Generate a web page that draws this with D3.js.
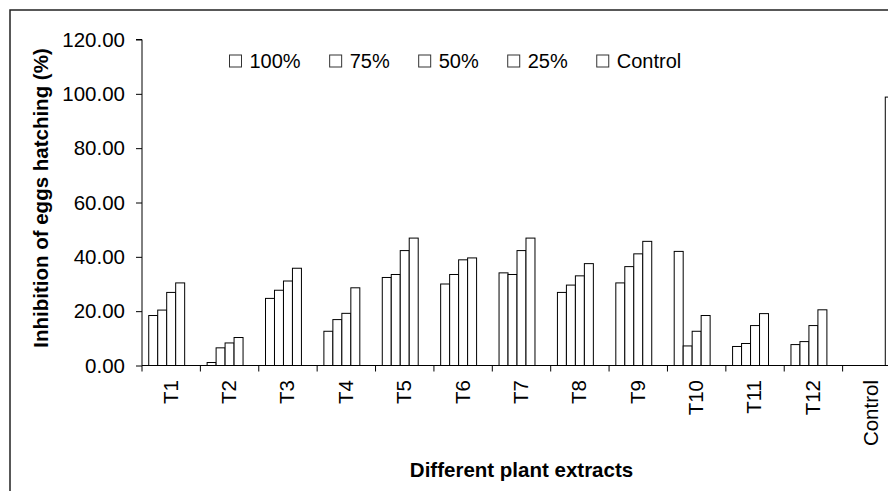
<!DOCTYPE html>
<html>
<head>
<meta charset="utf-8">
<script src="https://cdn.jsdelivr.net/npm/d3@7/dist/d3.min.js"></script>
<style>
  html, body { margin: 0; padding: 0; background: #fff; overflow: hidden; }
  svg { display: block; font-family: "Liberation Sans", Arial, sans-serif; }
</style>
</head>
<body>
<svg id="chart" width="888" height="491"></svg>
<script>
// ---- Data ----
const categories = ["T1","T2","T3","T4","T5","T6","T7","T8","T9","T10","T11","T12","Control"];
const seriesNames = ["100%","75%","50%","25%","Control"];
const s100     = [18.4, 1.1, 24.7, 12.6, 32.4, 30.0, 34.1, 26.9, 30.4, 42.0, 7.0, 7.7, 0];
const s75      = [20.4, 6.5, 27.7, 16.9, 33.5, 33.5, 33.5, 29.6, 36.4, 7.2, 8.1, 8.8, 0];
const s50      = [26.9, 8.3, 31.1, 19.2, 42.3, 38.9, 42.3, 33.0, 41.1, 12.6, 14.7, 14.7, 0];
const s25      = [30.4, 10.3, 35.8, 28.6, 46.9, 39.6, 46.9, 37.5, 45.7, 18.4, 19.1, 20.5, 0];
const sControl = [0, 0, 0, 0, 0, 0, 0, 0, 0, 0, 0, 0, 98.8];
const yTicks = [0, 20, 40, 60, 80, 100, 120];
const yTitle = "Inhibition of eggs hatching (%)";
const xTitle = "Different plant extracts";

const seriesValues = [s100, s75, s50, s25, sControl];

// ---- Layout ----
const svg = d3.select("#chart");
const pLeft = 142, pRight = 901, pTop = 39.5, pBottom = 365.5;

// frame
svg.append("rect")
  .attr("x", 10).attr("y", 10).attr("width", 1000).attr("height", 600)
  .attr("fill", "#fff").attr("stroke", "#222").attr("stroke-width", 1.5);

const x = d3.scaleBand().domain(categories).range([pLeft, pRight]).padding(0);
const xs = d3.scaleBand().domain(seriesNames).range([0, x.bandwidth()])
  .paddingInner(0).paddingOuter(0.75);
const y = d3.scaleLinear().domain([0, 120]).range([pBottom, pTop]);

// bars
const barData = [];
categories.forEach((c, i) => {
  seriesNames.forEach((s, j) => {
    const v = seriesValues[j][i];
    if (v > 0) barData.push({ c, s, v });
  });
});

svg.append("g").selectAll("rect").data(barData).join("rect")
  .attr("x", d => x(d.c) + xs(d.s))
  .attr("y", d => y(d.v))
  .attr("width", xs.bandwidth())
  .attr("height", d => y(0) - y(d.v))
  .attr("fill", "#fff")
  .attr("stroke", "#000")
  .attr("stroke-width", 1);

// y axis
const yAxis = d3.axisLeft(y).tickValues(yTicks).tickFormat(d3.format(".2f"))
  .tickSize(6).tickPadding(11);
const gy = svg.append("g").attr("transform", `translate(${pLeft},0)`).call(yAxis);
gy.select(".domain").attr("d", `M-6,${pTop}H0V${pBottom}`).attr("stroke", "#000");
gy.selectAll(".tick line").attr("stroke", "#000");
gy.selectAll(".tick text").attr("font-size", 20.5).attr("fill", "#000")
  .attr("font-family", "'Liberation Sans', Arial, sans-serif");

// x axis line and boundary ticks
const gx = svg.append("g");
gx.append("line").attr("x1", pLeft).attr("x2", pRight).attr("y1", pBottom).attr("y2", pBottom)
  .attr("stroke", "#000").attr("stroke-width", 1);
const boundaries = categories.map(c => x(c)).concat([pRight]);
gx.selectAll("line.bt").data(boundaries).join("line").attr("class", "bt")
  .attr("x1", d => d).attr("x2", d => d)
  .attr("y1", pBottom).attr("y2", pBottom + 6)
  .attr("stroke", "#000");

gx.selectAll("text.xl").data(categories).join("text").attr("class", "xl")
  .attr("transform", d => `translate(${x(d) + x.bandwidth() / 2 - 1},380) rotate(-90)`)
  .attr("text-anchor", "end")
  .attr("dy", "0.36em")
  .attr("font-size", 20.5)
  .attr("fill", "#000")
  .text(d => d);

// axis titles
svg.append("text")
  .attr("transform", `translate(48,198) rotate(-90)`)
  .attr("text-anchor", "middle")
  .attr("font-size", 20.5).attr("font-weight", "bold").attr("fill", "#000")
  .text(yTitle);

svg.append("text")
  .attr("x", (pLeft + pRight) / 2).attr("y", 476.5)
  .attr("text-anchor", "middle")
  .attr("font-size", 20.5).attr("font-weight", "bold").attr("fill", "#000")
  .text(xTitle);

// legend
const lg = svg.append("g");
let lx = 229.5;
seriesNames.forEach(name => {
  lg.append("rect").attr("x", lx).attr("y", 55).attr("width", 12).attr("height", 12)
    .attr("fill", "#fff").attr("stroke", "#333").attr("stroke-width", 1);
  const t = lg.append("text").attr("x", lx + 20).attr("y", 67.5)
    .attr("font-size", 20).attr("fill", "#000").text(name);
  const w = t.node().getComputedTextLength();
  lx = lx + 20 + w + 29;
});
</script>
</body>
</html>
